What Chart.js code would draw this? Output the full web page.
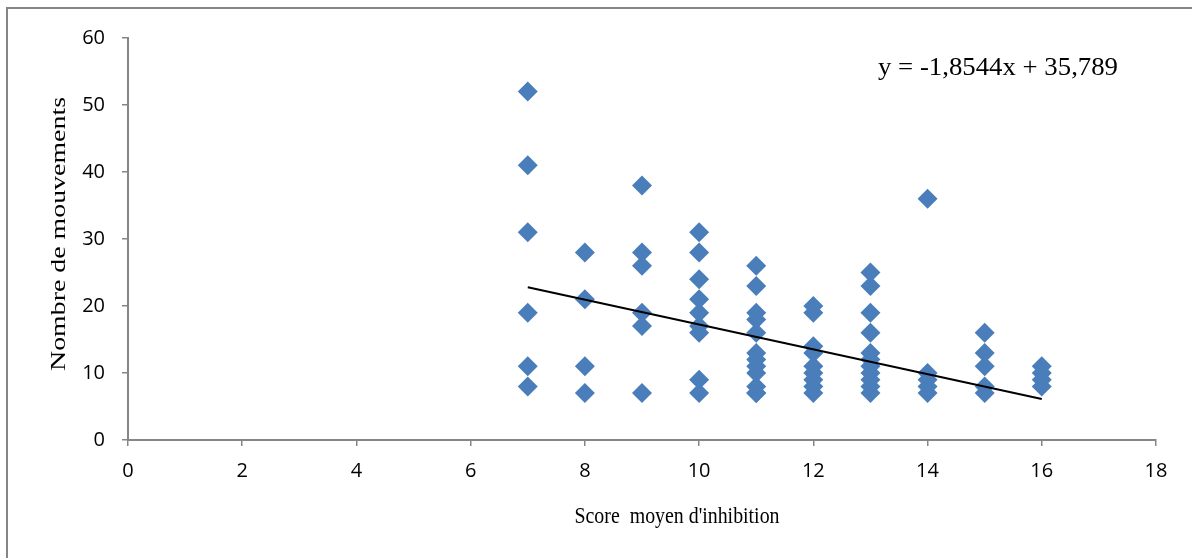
<!DOCTYPE html>
<html>
<head>
<meta charset="utf-8">
<script src="https://cdn.jsdelivr.net/npm/chart.js@4.4.1/dist/chart.umd.min.js"></script>
<style>
  html, body { margin: 0; padding: 0; background: #fff; }
  #wrap { width: 1192px; height: 558px; position: relative; }
</style>
</head>
<body>
<div id="wrap"><canvas id="c" width="1192" height="558"></canvas></div>
<script>
// ---- Data ----
const scoreColumns = [7, 8, 9, 10, 11, 12, 13, 14, 15, 16];
const mouvementsAt7  = [52, 41, 31, 19, 11, 8];
const mouvementsAt8  = [28, 21, 11, 7];
const mouvementsAt9  = [38, 28, 26, 19, 17, 7];
const mouvementsAt10 = [31, 28, 24, 21, 19, 17, 16, 9, 7];
const mouvementsAt11 = [26, 23, 19, 18, 16, 13, 12, 11, 10, 8, 7, 7];
const mouvementsAt12 = [20, 19, 14, 13, 11, 10, 9, 8, 7];
const mouvementsAt13 = [25, 23, 19, 16, 13, 12, 11, 10, 9, 8, 7];
const mouvementsAt14 = [36, 10, 9, 8, 7];
const mouvementsAt15 = [16, 13, 11, 8, 7];
const mouvementsAt16 = [11, 10, 9, 8];
const trendSlope = -1.8544;
const trendIntercept = 35.789;
const trendStart = 7;
const trendEnd = 16;
const xTickLabels = [0, 2, 4, 6, 8, 10, 12, 14, 16, 18];
const yTickLabels = [0, 10, 20, 30, 40, 50, 60];
const equationText = 'y = -1,8544x + 35,789';
const xTitle = "Score  moyen d'inhibition";
const yTitle = 'Nombre de mouvements';

const columns = [mouvementsAt7, mouvementsAt8, mouvementsAt9, mouvementsAt10, mouvementsAt11,
                 mouvementsAt12, mouvementsAt13, mouvementsAt14, mouvementsAt15, mouvementsAt16];
const points = [];
scoreColumns.forEach((sx, i) => columns[i].forEach(v => points.push({x: sx, y: v})));
const trendPoints = [trendStart, trendEnd].map(x => ({x: x, y: trendSlope * x + trendIntercept}));

const axisGray = '#868686';
const tickFont = {family: 'Open Sans', size: 20};

const decor = {
  id: 'decor',
  beforeDraw(chart) {
    const ctx = chart.ctx;
    ctx.save();
    ctx.fillStyle = '#fff';
    ctx.fillRect(0, 0, chart.width, chart.height);
    ctx.strokeStyle = axisGray;
    ctx.lineWidth = 2;
    ctx.strokeRect(7, 8, chart.width + 20, chart.height + 20);
    ctx.restore();
  },
  afterDraw(chart) {
    const ctx = chart.ctx;
    ctx.save();
    ctx.fillStyle = '#000';
    // equation
    ctx.font = '26px "Liberation Serif"';
    ctx.textAlign = 'left';
    ctx.textBaseline = 'middle';
    let w = ctx.measureText(equationText).width;
    ctx.save();
    ctx.translate(878, 68);
    ctx.scale(240 / w, 1);
    ctx.fillText(equationText, 0, 0);
    ctx.restore();
    // x title
    ctx.font = '23px "Liberation Serif"';
    ctx.textAlign = 'center';
    w = ctx.measureText(xTitle).width;
    ctx.save();
    ctx.translate(677, 517);
    ctx.scale(205 / w, 1);
    ctx.fillText(xTitle, 0, 0);
    ctx.restore();
    // y title (rotated)
    ctx.font = '22px "Liberation Serif"';
    w = ctx.measureText(yTitle).width;
    ctx.save();
    ctx.translate(59, 234);
    ctx.rotate(-Math.PI / 2);
    ctx.scale(274 / w, 1);
    ctx.fillText(yTitle, 0, 0);
    ctx.restore();
    ctx.restore();
  }
};

new Chart(document.getElementById('c'), {
  type: 'scatter',
  data: {
    datasets: [
      {
        label: 'Tendance',
        type: 'line',
        data: trendPoints,
        borderColor: '#000',
        borderWidth: 2,
        pointRadius: 0,
        fill: false,
        order: 0
      },
      {
        label: 'Mouvements',
        data: points,
        pointStyle: 'rectRot',
        pointRadius: 10,
        pointHoverRadius: 10,
        backgroundColor: '#4A7EBB',
        borderColor: '#4A7EBB',
        borderWidth: 0,
        order: 1
      }
    ]
  },
  options: {
    responsive: false,
    animation: false,
    events: [],
    layout: {padding: {top: 38, right: 36, left: 0, bottom: 0}},
    plugins: {legend: {display: false}, tooltip: {enabled: false}},
    scales: {
      x: {
        type: 'linear',
        min: 0, max: 18,
        afterBuildTicks(scale) { scale.ticks = xTickLabels.map(v => ({value: v})); },
        afterFit(scale) { scale.height = 118; },
        ticks: {font: tickFont, color: '#000', padding: 13, maxRotation: 0},
        grid: {drawOnChartArea: false, drawTicks: true, tickLength: 6, color: axisGray, lineWidth: 1.5},
        border: {color: axisGray, width: 2}
      },
      y: {
        type: 'linear',
        min: 0, max: 60,
        afterBuildTicks(scale) { scale.ticks = yTickLabels.map(v => ({value: v})); },
        afterFit(scale) { scale.width = 128; },
        ticks: {font: tickFont, color: '#000', padding: 17},
        grid: {drawOnChartArea: false, drawTicks: true, tickLength: 6, color: axisGray, lineWidth: 1.5},
        border: {color: axisGray, width: 2}
      }
    }
  },
  plugins: [decor]
});
</script>
</body>
</html>
